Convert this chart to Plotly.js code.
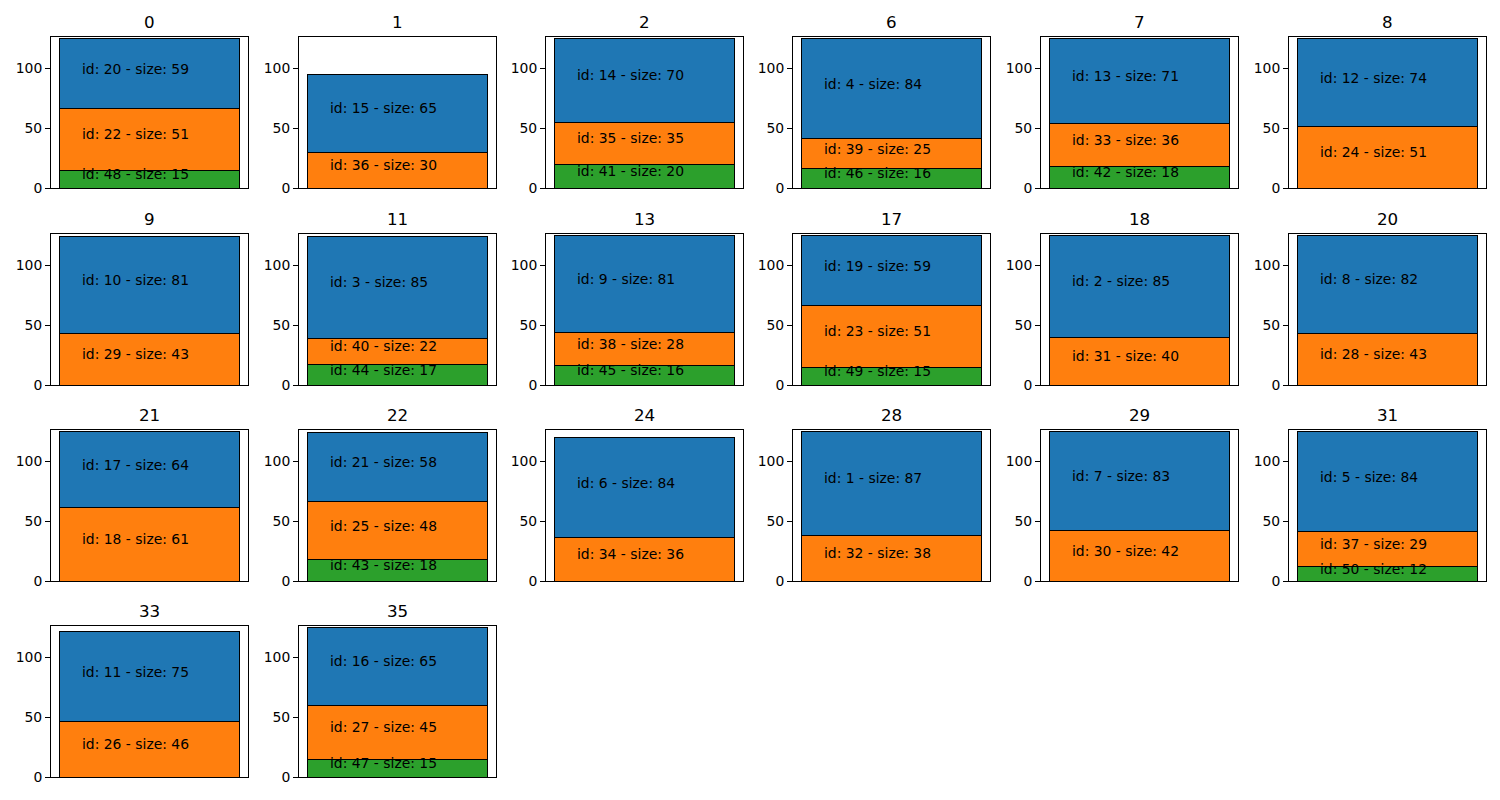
<!DOCTYPE html>
<html>
<head>
<meta charset="utf-8">
<script src="https://cdn.plot.ly/plotly-3.0.1.min.js"></script>
<style>html,body{margin:0;padding:0;background:#fff;}#chart{width:1500px;height:800px;}</style>
</head>
<body>
<div id="chart"></div>
<script>
const groups = ['0','1','2','6','7','8','9','11','13','17','18','20','21','22','24','28','29','31','33','35'];
const topIds   = [20,15,14,4,13,12,10,3,9,19,2,8,17,21,6,1,7,5,11,16];
const topSizes = [59,65,70,84,71,74,81,85,81,59,85,82,64,58,84,87,83,84,75,65];
const midIds   = [22,36,35,39,33,24,29,40,38,23,31,28,18,25,34,32,30,37,26,27];
const midSizes = [51,30,35,25,36,51,43,22,28,51,40,43,61,48,36,38,42,29,46,45];
const lowIds   = [48,null,41,46,42,null,null,44,45,49,null,null,null,43,null,null,null,50,null,47];
const lowSizes = [15,null,20,16,18,null,null,17,16,15,null,null,null,18,null,null,null,12,null,15];

const colLeft = [51, 299, 546, 793, 1041, 1289];
const axW = 197;
const rowTop = [37, 234, 430, 626];
const axH = 151;
const W = 1500, H = 800;
const COLORS = {low:'#2ca02c', mid:'#ff7f0e', top:'#1f77b4'};
const FONT = 'DejaVu Sans, sans-serif';

const traces = [];
const annotations = [];
const layout = {
  width: W, height: H, autosize: false,
  margin: {l:0, r:0, t:0, b:0},
  paper_bgcolor: '#fff', plot_bgcolor: '#fff',
  barmode: 'stack', showlegend: false,
  font: {family: FONT, color: '#000'},
};

groups.forEach((g, i) => {
  const r = Math.floor(i / 6), c = i % 6;
  const n = i + 1;
  const xa = n === 1 ? 'x' : 'x' + n;
  const ya = n === 1 ? 'y' : 'y' + n;
  const xk = n === 1 ? 'xaxis' : 'xaxis' + n;
  const yk = n === 1 ? 'yaxis' : 'yaxis' + n;
  const x0 = colLeft[c], x1 = x0 + axW;
  const y0 = rowTop[r], y1 = y0 + axH;
  layout[xk] = {
    domain: [x0 / W, x1 / W], anchor: ya, range: [-0.44, 0.44],
    showticklabels: false, ticks: '', showgrid: false, zeroline: false,
    showline: true, mirror: true, linecolor: '#000', linewidth: 1, fixedrange: true
  };
  layout[yk] = {
    domain: [1 - y1 / H, 1 - y0 / H], anchor: xa, range: [0, 126],
    tickvals: [0, 50, 100], ticks: 'outside', ticklen: 5, tickwidth: 1, tickcolor: '#000',
    tickfont: {family: FONT, size: 13.9, color: '#000'},
    showgrid: false, zeroline: false,
    showline: true, mirror: true, linecolor: '#000', linewidth: 1, fixedrange: true
  };
  const segs = [];
  if (lowSizes[i] != null) segs.push({id: lowIds[i], size: lowSizes[i], color: COLORS.low});
  segs.push({id: midIds[i], size: midSizes[i], color: COLORS.mid});
  segs.push({id: topIds[i], size: topSizes[i], color: COLORS.top});
  let base = 0;
  segs.forEach(s => {
    traces.push({
      type: 'bar', x: [0], y: [s.size], width: 0.8, xaxis: xa, yaxis: ya,
      marker: {color: s.color, line: {color: '#000', width: 1}},
      hoverinfo: 'skip'
    });
    annotations.push({
      xref: xa, yref: ya, x: -0.3, y: base + s.size / 2,
      xanchor: 'left', yanchor: 'middle', xshift: -2, yshift: 5, showarrow: false,
      text: 'id: ' + s.id + ' - size: ' + s.size,
      font: {family: FONT, size: 13.9, color: '#000'}
    });
    base += s.size;
  });
  annotations.push({
    xref: 'paper', yref: 'paper', x: (x0 + x1) / 2 / W, y: 1 - y0 / H,
    xanchor: 'center', yanchor: 'bottom', yshift: 3, showarrow: false,
    text: g, font: {family: FONT, size: 16.7, color: '#000'}
  });
});
layout.annotations = annotations;
Plotly.newPlot('chart', traces, layout, {displayModeBar: false, staticPlot: true});
</script>
</body>
</html>
